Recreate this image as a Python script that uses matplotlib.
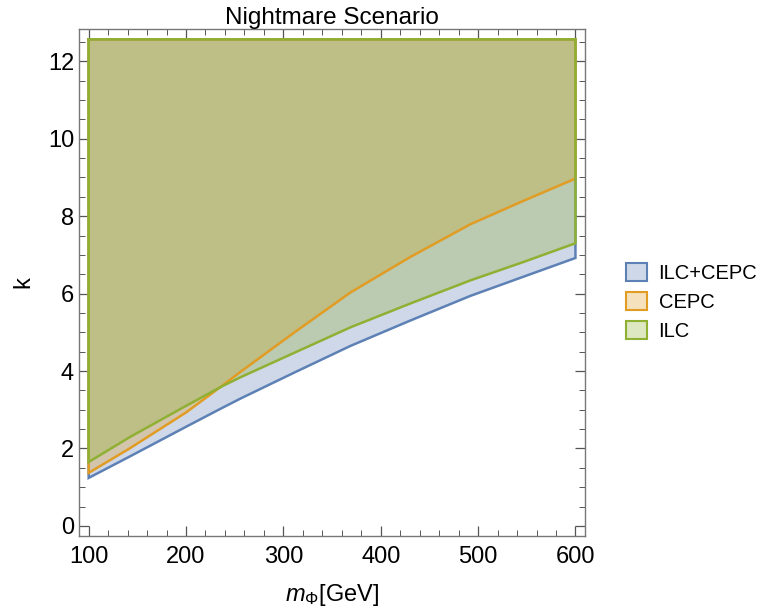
import matplotlib.pyplot as plt
import matplotlib.colors as mcolors
from matplotlib.patches import Patch
from matplotlib.ticker import MultipleLocator
import numpy as np

plt.rcParams['font.family'] = ['Liberation Sans', 'DejaVu Sans']
plt.rcParams['mathtext.fontset'] = 'custom'
plt.rcParams['mathtext.it'] = 'Liberation Sans:italic'
plt.rcParams['mathtext.rm'] = 'Liberation Sans'

# lower bounds of k
m_phi = [100, 142, 200, 235, 256, 312, 369, 430, 492, 547, 600]
k_both = [1.24, 1.79, 2.56, 3.02, 3.29, 3.97, 4.65, 5.30, 5.94, 6.44, 6.92]
k_cepc = [1.37, 2.00, 2.93, 3.58, 3.98, 5.01, 6.03, 6.94, 7.79, 8.40, 8.97]
k_ilc = [1.65, 2.29, 3.10, 3.58, 3.84, 4.48, 5.13, 5.74, 6.34, 6.82, 7.30]
k_top = 4 * np.pi

labels = ["ILC+CEPC", "CEPC", "ILC"]
colors = ["#5E81B5", "#E19C24", "#8FB032"]

fig = plt.figure(figsize=(7.59, 6.07), dpi=100)
ax = fig.add_axes([0.104, 0.117, 0.667, 0.835])

for lows, c in zip([k_both, k_cepc, k_ilc], colors):
    xs = [m_phi[0]] + m_phi + [m_phi[-1], m_phi[0]]
    ys = [k_top] + lows + [k_top, k_top]
    ax.fill(xs, ys, facecolor=c, alpha=0.3, edgecolor="none")
    ax.plot(xs, ys, color=c, lw=1.8, solid_joinstyle="miter")

ax.set_xlim(90, 610)
ax.set_ylim(-0.26, 12.83)
ax.xaxis.set_major_locator(MultipleLocator(100))
ax.xaxis.set_minor_locator(MultipleLocator(20))
ax.yaxis.set_major_locator(MultipleLocator(2))
ax.yaxis.set_minor_locator(MultipleLocator(0.5))
ax.tick_params(which="both", direction="in", top=True, right=True,
               color="#555555", labelsize=17)
ax.tick_params(which="major", length=7, width=0.9)
ax.tick_params(which="minor", length=4, width=0.7)
ax.tick_params(axis="x", which="major", pad=7)
for s in ax.spines.values():
    s.set_color("#777777")
    s.set_linewidth(1.0)

ax.set_title("Nightmare Scenario", fontsize=17.5, pad=3)
ax.set_xlabel(r"$m_{\Phi}$[GeV]", fontsize=17, labelpad=10)
ax.set_ylabel("k", fontsize=17, labelpad=10)

handles = [Patch(facecolor=mcolors.to_rgba(c, 0.3), edgecolor=c, linewidth=1.5)
           for c in colors]
fig.legend(handles, labels, loc="center left", bbox_to_anchor=(0.812, 0.503),
           frameon=False, fontsize=14.5, handlelength=1.0, handleheight=1.0,
           handletextpad=0.6, labelspacing=0.45, borderpad=0)

fig.savefig("out.png", dpi=100)
